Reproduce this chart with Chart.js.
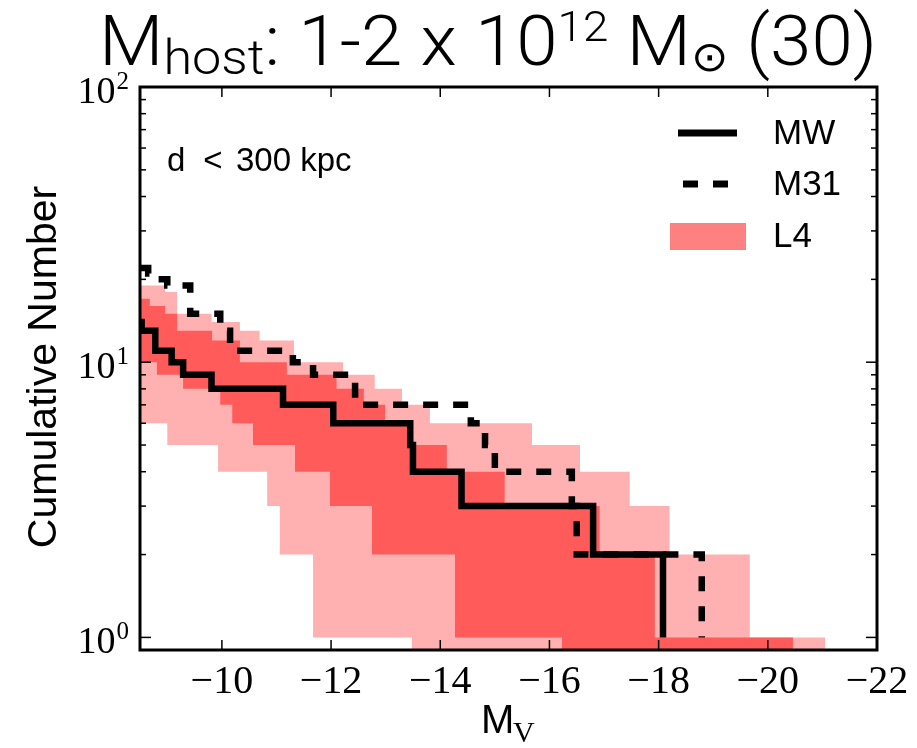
<!DOCTYPE html>
<html>
<head>
<meta charset="utf-8">
<script src="https://cdn.jsdelivr.net/npm/chart.js@4.4.1/dist/chart.umd.min.js"></script>
<style>
  html, body { margin: 0; padding: 0; background: #fff; }
  #graph { width: 917px; height: 748px; }
</style>
</head>
<body>
<div id="graph"><canvas id="cumul" width="917" height="748"></canvas></div>
<script>
// =========================== Data
// x = M_V, y = cumulative number of satellites.
// Each pair of arrays is a stepped run: at each magnitude the count drops to the listed value.
const FLOOR = 0.5 // zero count, sits below the log axis

const mwMag   = [-8.5, -8.53, -8.78, -9.08, -9.29, -9.81, -11.12, -12.04, -13.45, -13.5, -14.39, -16.8, -18.08]
const mwCount = [14, 13, 11, 10, 9, 8, 7, 6, 5, 4, 3, 2, 1]

const m31Mag   = [-8.5, -8.65, -8.8, -9.0, -9.42, -9.97, -10.15, -11.3, -11.67, -12.44, -14.56, -14.82, -15.0, -16.41, -16.5, -18.79]
const m31Count = [22, 21, 20, 19, 15, 13, 11, 10, 9, 7, 6, 5, 4, 3, 2, 1]

// L4 band, outer (light) and inner (dark) envelopes
const outerHiMag   = [-8.5, -8.96, -9.18, -9.81, -10.33, -10.69, -11.32, -12.22, -12.8, -13.3, -13.81, -15.68, -16.56, -17.47, -18.2, -19.67, -21.05]
const outerHiCount = [19, 18, 15, 14, 13, 12, 10, 9, 8, 7, 6, 5, 4, 3, 2, 1, FLOOR]
const outerLoMag   = [-8.5, -9.0, -9.93, -10.83, -11.06, -11.67, -13.48, -21.05]
const outerLoCount = [6, 5, 4, 3, 2, 1, FLOOR, FLOOR]

const innerHiMag   = [-8.5, -8.68, -8.96, -9.18, -9.82, -10.33, -11.19, -12.1, -12.6, -12.99, -13.5, -14.12, -15.18, -16.92, -17.93, -20.46]
const innerHiCount = [17, 16, 15, 13, 12, 10, 9, 8, 7, 6, 5, 4, 3, 2, 1, FLOOR]
const innerLoMag   = [-8.5, -8.81, -9.29, -9.97, -10.19, -10.57, -11.34, -11.98, -12.75, -14.27, -16.23, -20.46]
const innerLoCount = [10, 9, 8, 7, 6, 5, 4, 3, 2, 1, FLOOR, FLOOR]

const xTicks = [-10, -12, -14, -16, -18, -20, -22]
const yDecades = [1, 10, 100]
const yExponents = ['0', '1', '2']

const legendNames = ['MW', 'M31', 'L4']

// =========================== Helpers
function pts(mags, counts){
    return mags.map((m, i) => ({x: m, y: counts[i]}))
}

function seg(ctx, x1, y1, x2, y2){
    ctx.beginPath()
    ctx.moveTo(x1, y1)
    ctx.lineTo(x2, y2)
    ctx.stroke()
}

const SANS = '"Liberation Sans", "DejaVu Sans", sans-serif'
const SERIF = '"Liberation Serif", "DejaVu Serif", serif'
const LIGHT = '300 {s}px Roboto, "Liberation Sans", "DejaVu Sans", sans-serif'

// =========================== Overlay: frame, ticks, texts, legend
const overlay = {
    id: 'overlay',
    afterDraw(chart){
        const {ctx, chartArea: a, scales: {x, y}} = chart
        ctx.save()
        ctx.strokeStyle = '#000'
        ctx.fillStyle = '#000'

        // inward ticks
        ctx.lineWidth = 1.5
        xTicks.forEach(v => {
            const px = x.getPixelForValue(v)
            seg(ctx, px, a.bottom, px, a.bottom - 10)
            seg(ctx, px, a.top, px, a.top + 10)
        })
        yDecades.forEach((d, k) => {
            const py = y.getPixelForValue(d)
            seg(ctx, a.left, py, a.left + 11, py)
            seg(ctx, a.right, py, a.right - 11, py)
            if(k < yDecades.length - 1){
                for(let m = 2; m <= 9; m++){
                    const pm = y.getPixelForValue(m * d)
                    seg(ctx, a.left, pm, a.left + 6, pm)
                    seg(ctx, a.right, pm, a.right - 6, pm)
                }
            }
        })

        // frame
        ctx.lineWidth = 3
        ctx.strokeRect(a.left, a.top, a.right - a.left, a.bottom - a.top)

        // x tick labels
        ctx.font = '40px ' + SERIF
        ctx.textAlign = 'center'
        ctx.textBaseline = 'alphabetic'
        xTicks.forEach(v => {
            ctx.fillText('\u2212' + Math.abs(v), x.getPixelForValue(v), a.bottom + 43)
        })

        // y tick labels 10^n
        yDecades.forEach((d, k) => {
            const py = y.getPixelForValue(d) + 3
            ctx.font = '25px ' + SERIF
            ctx.textAlign = 'right'
            const supW = ctx.measureText(yExponents[k]).width
            ctx.fillText(yExponents[k], 129, py - 1)
            ctx.font = '38px ' + SERIF
            ctx.fillText('10', 129 - supW - 1, py + 13)
        })

        // axis labels
        ctx.font = '41px ' + SANS
        ctx.textAlign = 'center'
        ctx.save()
        ctx.translate(56, 367)
        ctx.rotate(-Math.PI / 2)
        ctx.fillText('Cumulative Number', 0, 0)
        ctx.restore()

        ctx.textAlign = 'left'
        ctx.font = '40px ' + SANS
        ctx.fillText('M', 481, 733)
        ctx.font = '30px ' + SERIF
        ctx.fillText('V', 513, 742)

        // title, light face squeezed to the reference width
        const runs = [
            {t: 'M', s: 1, dy: 0},
            {t: 'host', s: 0.7, dy: 9},
            {t: ': 1-2 x 10', s: 1, dy: 0},
            {t: '12', s: 0.62, dy: -24},
            {t: ' M', s: 1, dy: 0},
            {t: '\u2299', s: 0.6, dy: 6},
            {t: ' (30)', s: 1, dy: 0}
        ]
        const big = 70
        const tfont = s => LIGHT.replace('{s}', Math.round(big * s))
        let total = 0
        runs.forEach(r => {
            ctx.font = tfont(r.s)
            r.w = ctx.measureText(r.t).width
            total += r.w
        })
        const sx = 778 / total
        ctx.save()
        ctx.translate(99, 0)
        ctx.scale(sx, 1)
        let cx = 0
        runs.forEach(r => {
            ctx.font = tfont(r.s)
            ctx.fillText(r.t, cx, 65 + r.dy)
            cx += r.w
        })
        ctx.restore()

        // annotation
        ctx.font = '33px ' + SANS
        ctx.fillText('d', 167, 171)
        ctx.textAlign = 'center'
        ctx.fillText('<', 213, 171)
        ctx.textAlign = 'left'
        ctx.fillText('300 kpc', 236, 171)

        // legend
        ctx.lineWidth = 7
        ctx.lineCap = 'butt'
        seg(ctx, 678, 133, 737, 133)
        ctx.setLineDash([15, 15])
        seg(ctx, 683, 184, 730, 184)
        ctx.setLineDash([])
        ctx.fillStyle = '#ff8080'
        ctx.fillRect(670, 223, 76, 27)
        ctx.fillStyle = '#000'
        ctx.font = '35px ' + SANS
        ctx.textBaseline = 'middle'
        const ly = [133, 184, 236]
        legendNames.forEach((n, i) => ctx.fillText(n, 773, ly[i] + 1))

        ctx.restore()
    }
}

// =========================== Chart
const base = {stepped: 'before', pointRadius: 0, pointHoverRadius: 0, tension: 0}

new Chart(document.getElementById('cumul'), {
    type: 'line',
    data: {
        datasets: [{
            ...base, label: 'MW', data: pts(mwMag, mwCount),
            borderColor: '#000', borderWidth: 6.5, fill: false, order: 0
        },{
            ...base, label: 'M31', data: pts(m31Mag, m31Count),
            borderColor: '#000', borderWidth: 6.5, borderDash: [15, 15], fill: false, order: 1
        },{
            ...base, label: 'L4 inner', data: pts(innerHiMag, innerHiCount),
            borderColor: 'rgba(0,0,0,0)', borderWidth: 0, backgroundColor: '#ff5b5b', fill: '+1', order: 2
        },{
            ...base, label: 'L4 inner low', data: pts(innerLoMag, innerLoCount),
            borderColor: 'rgba(0,0,0,0)', borderWidth: 0, fill: false, order: 2
        },{
            ...base, label: 'L4 outer', data: pts(outerHiMag, outerHiCount),
            borderColor: 'rgba(0,0,0,0)', borderWidth: 0, backgroundColor: '#ffb0b0', fill: '+1', order: 3
        },{
            ...base, label: 'L4 outer low', data: pts(outerLoMag, outerLoCount),
            borderColor: 'rgba(0,0,0,0)', borderWidth: 0, fill: false, order: 3
        }]
    },
    options: {
        responsive: false,
        devicePixelRatio: 1,
        animation: false,
        events: [],
        layout: {padding: {left: 140, right: 40, top: 87, bottom: 98}},
        scales: {
            x: {type: 'linear', min: -22, max: -8.5, reverse: true, display: false},
            y: {type: 'logarithmic', min: 0.9, max: 100, display: false}
        },
        plugins: {
            legend: {display: false},
            tooltip: {enabled: false}
        }
    },
    plugins: [overlay]
})
</script>
</body>
</html>
